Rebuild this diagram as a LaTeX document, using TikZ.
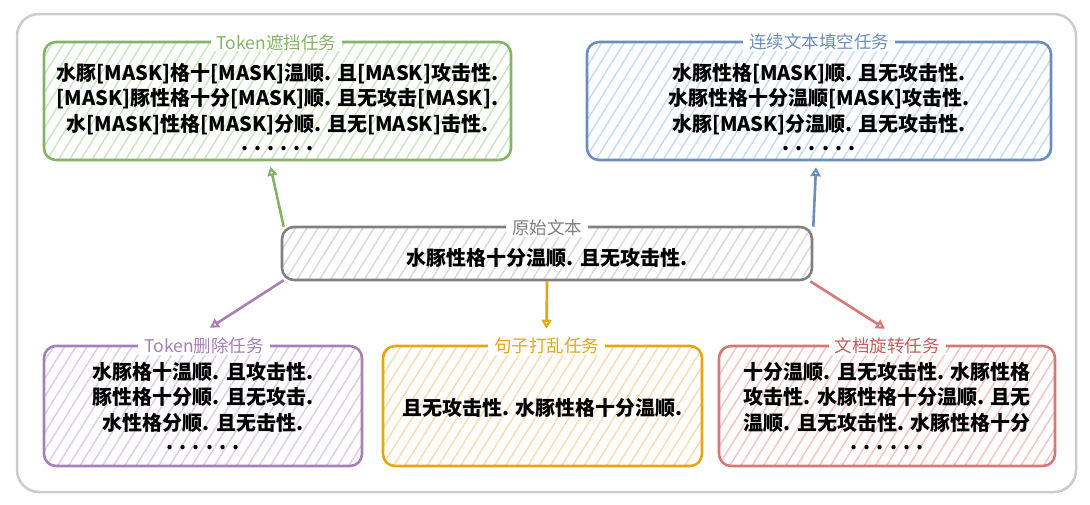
\documentclass[tikz,border=0pt]{standalone}
\usepackage{fontspec}
\setmainfont{Noto Sans CJK SC}
\usetikzlibrary{patterns.meta,arrows.meta,calc}
\definecolor{frameC}{HTML}{CCCCCC}
\definecolor{gS}{HTML}{82B366}\definecolor{gH}{HTML}{C9E6C0}
\definecolor{bS}{HTML}{6C8EBF}\definecolor{bH}{HTML}{C4DAF5}
\definecolor{kS}{HTML}{808080}\definecolor{kH}{HTML}{D8D8D8}
\definecolor{pS}{HTML}{A680B8}\definecolor{pH}{HTML}{DCCCE6}
\definecolor{oS}{HTML}{E8A512}\definecolor{oH}{HTML}{FCDAB0}
\definecolor{rS}{HTML}{D47878}\definecolor{rH}{HTML}{F6C2C0}
\definecolor{rT}{HTML}{C85A5A}
\newcommand{\mk}{{[}MASK{]}}
\begin{document}
\begin{tikzpicture}[x=1pt,y=-1pt,
  box/.style={line width=2.6pt, rounded corners=12pt, inner sep=0pt},
  hatch/.style={pattern={Lines[angle=58,distance=9.5pt,line width=1.4pt]}, pattern color=#1},
  body/.style={font=\fontsize{20}{25.5}\selectfont\bfseries, align=center, text=black, inner sep=0pt},
  ttl/.style={font=\fontsize{17.5}{19}\selectfont, fill=white, inner xsep=6pt, inner ysep=1pt, text=#1},
  arr/.style={draw=#1, line width=2.6pt, -{Triangle[open,length=9pt,width=10pt,line width=2.2pt]}},
]
\useasboundingbox (0,0) rectangle (1090,504);
\node (frame) [draw=frameC, line width=2.5pt, rounded corners=22pt, minimum width=1059pt, minimum height=478pt] at (546.5,253) {};

% boxes
\node (gbox) [box, draw=gS, hatch=gH, minimum width=467pt, minimum height=118pt] at (277.5,101) {};
\node (bbox) [box, draw=bS, hatch=bH, minimum width=464pt, minimum height=118pt] at (819,101) {};
\node (orig) [box, draw=kS, hatch=kH, minimum width=530pt, minimum height=53pt] at (547,253.5) {};
\node (pbox) [box, draw=pS, hatch=pH, minimum width=318pt, minimum height=120pt] at (203,406) {};
\node (obox) [box, draw=oS, hatch=oH, minimum width=319pt, minimum height=120pt] at (542.5,406) {};
\node (rbox) [box, draw=rS, hatch=rH, minimum width=336pt, minimum height=120pt] at (887,406) {};

% titles
\node (gt) [ttl=gS] at ($(gbox.north)+(-1,1)$) {Token遮挡任务};
\node (bt) [ttl=bS] at ($(bbox.north)+(0,1)$) {连续文本填空任务};
\node (kt) [ttl=kS] at ($(orig.north)+(0,2)$) {原始文本};
\node (pt) [ttl=pS] at ($(pbox.north)+(1,1)$) {Token删除任务};
\node (ot) [ttl=oS] at ($(obox.north)+(4,1)$) {句子打乱任务};
\node (rt) [ttl=rT] at ($(rbox.north)+(0,1)$) {文档旋转任务};

% texts
\node (gx) [body] at ($(gbox.center)+(0,6)$) {水豚\mk 格十\mk 温顺. 且\mk 攻击性.\\\mk 豚性格十分\mk 顺. 且无攻击\mk .\\水\mk 性格\mk 分顺. 且无\mk 击性.\\[-6pt]. . . . . .};
\node (bx) [body] at ($(bbox.center)+(0,6)$) {水豚性格\mk 顺. 且无攻击性.\\水豚性格十分温顺\mk 攻击性.\\水豚\mk 分温顺. 且无攻击性.\\[-6pt]. . . . . .};
\node (kx) [body] at ($(orig.center)+(0,4)$) {水豚性格十分温顺. 且无攻击性.};
\node (px) [body] at ($(pbox.center)+(0,0)$) {水豚格十温顺. 且攻击性.\\豚性格十分顺. 且无攻击.\\水性格分顺. 且无击性.\\[-6pt]. . . . . .};
\node (ox) [body] at ($(obox.center)+(0,2)$) {且无攻击性. 水豚性格十分温顺.};
\node (rx) [body] at ($(rbox.center)+(0,0)$) {十分温顺. 且无攻击性. 水豚性格\\攻击性. 水豚性格十分温顺. 且无\\温顺. 且无攻击性. 水豚性格十分\\[-6pt]. . . . . .};

% arrows
\draw[arr=gS] ($(orig.north west)+(3,1)$) -- ($(gbox.south)+(-7,6)$);
\draw[arr=bS] ($(orig.north east)+(0,1)$) -- ($(bbox.south)+(-3,6)$);
\draw[arr=pS] ($(orig.south west)+(3,-1)$) -- ($(pbox.north)+(7,-17)$);
\draw[arr=oS] (orig.south) -- ($(obox.north)+(4,-16)$);
\draw[arr=rS] ($(orig.south east)+(-3,0)$) -- ($(rbox.north)+(-2,-16)$);
\end{tikzpicture}
\end{document}
